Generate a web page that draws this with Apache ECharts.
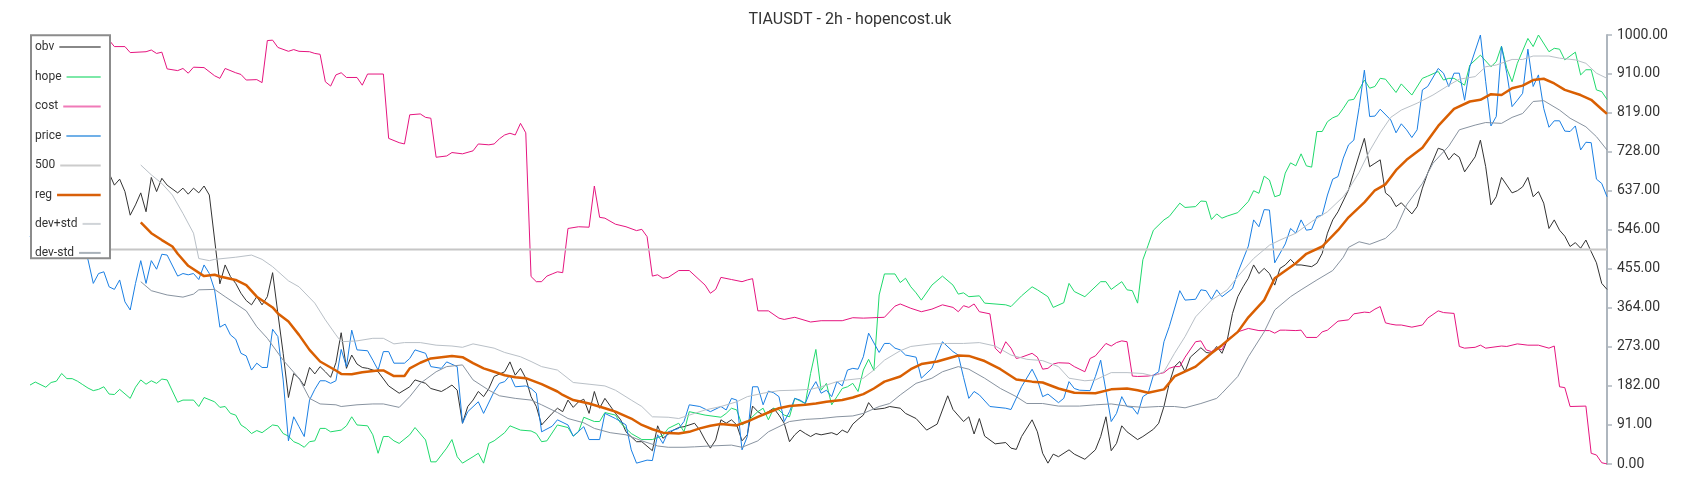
<!DOCTYPE html>
<html><head><meta charset="utf-8">
<script src="https://cdn.jsdelivr.net/npm/echarts@6/dist/echarts.min.js"></script>
<style>html,body{margin:0;padding:0;background:#fff}#c{width:1700px;height:500px}</style>
</head><body><div id="c"></div>
<script>
// ---- data (x = bar index 0..299, y = value) ----
const chartTitle = 'TIAUSDT - 2h - hopencost.uk';
const seriesNames = ['obv', 'hope', 'cost', 'price', '500', 'reg', 'dev+std', 'dev-std'];
const lastBar = 299;
const yMin = 0, yMax = 1000, yStep = 91;

const obv = [[0,700],[2,690],[4,712],[6,695],[8,705],[10,688],[12,702],[14,690],[15,678],[16,650],[17,664],[18,635],[19,580],[20,604],[21,632],[22,588],[23,668],[24,635],[25,666],[26,650],[28,632],[29,643],[30,629],[31,643],[32,632],[33,648],[34,627],[36,420],[37,464],[38,437],[39,421],[40,398],[41,381],[42,371],[43,390],[44,371],[45,390],[46,446],[47,351],[48,258],[49,155],[50,211],[51,200],[52,182],[53,225],[54,210],[55,227],[56,215],[57,202],[58,236],[59,306],[60,223],[61,254],[62,233],[63,225],[64,223],[66,215],[68,182],[70,165],[72,180],[73,196],[75,188],[76,176],[78,169],[79,176],[80,184],[81,172],[82,95],[83,134],[84,149],[85,169],[86,157],[87,176],[88,204],[90,215],[91,238],[92,207],[93,223],[94,200],[95,157],[96,134],[97,91],[99,118],[100,130],[101,122],[102,149],[103,132],[104,145],[105,151],[106,118],[107,169],[108,130],[109,153],[111,118],[112,103],[113,75],[115,52],[116,52],[118,31],[119,89],[120,60],[122,79],[123,85],[124,87],[126,95],[127,79],[128,56],[129,37],[130,56],[131,103],[132,95],[133,103],[134,91],[135,54],[136,68],[137,135],[138,122],[139,114],[141,130],[142,114],[143,95],[144,52],[145,68],[146,79],[147,71],[148,64],[149,71],[150,68],[152,73],[153,68],[154,79],[155,73],[156,93],[157,104],[158,114],[159,143],[160,127],[162,130],[163,134],[165,130],[166,118],[168,106],[170,79],[172,93],[174,159],[175,127],[177,99],[178,110],[179,70],[180,106],[181,65],[183,47],[185,50],[186,37],[187,34],[188,64],[190,103],[191,75],[192,25],[193,2],[194,23],[195,17],[197,33],[198,23],[200,11],[202,33],[203,64],[204,110],[205,31],[206,48],[207,89],[208,75],[210,57],[211,64],[213,81],[214,95],[215,134],[216,188],[217,227],[218,239],[219,215],[220,249],[222,271],[223,260],[224,258],[225,274],[226,258],[227,289],[228,351],[229,390],[230,413],[231,433],[232,464],[233,444],[234,456],[235,444],[236,417],[237,456],[238,464],[239,477],[240,464],[241,464],[243,460],[244,468],[245,491],[246,538],[247,569],[248,588],[250,639],[251,680],[252,720],[253,759],[254,693],[255,701],[256,709],[257,632],[258,622],[259,600],[260,609],[261,596],[262,583],[263,600],[264,643],[265,678],[267,736],[268,732],[269,709],[270,724],[271,715],[272,681],[274,716],[275,755],[276,693],[277,604],[278,623],[279,668],[281,632],[282,637],[283,646],[284,668],[285,623],[286,635],[287,608],[288,549],[289,569],[290,545],[291,531],[292,507],[293,516],[294,503],[295,522],[296,495],[297,469],[298,421],[299,407]];

const hope = [[0,184],[1,191],[3,179],[4,190],[5,193],[6,211],[7,199],[8,199],[9,193],[10,185],[11,177],[12,171],[13,174],[14,180],[15,163],[16,162],[17,174],[19,153],[20,179],[21,196],[22,186],[23,194],[24,188],[25,198],[26,196],[28,144],[29,149],[31,149],[32,134],[33,155],[35,145],[36,132],[37,134],[38,118],[39,114],[40,91],[41,83],[42,71],[43,78],[44,73],[46,91],[47,89],[48,71],[49,65],[50,52],[51,47],[52,39],[53,52],[54,54],[55,83],[56,83],[57,75],[59,79],[60,89],[61,110],[62,91],[64,89],[65,68],[66,25],[67,64],[68,64],[69,54],[70,48],[72,68],[73,85],[75,56],[76,5],[77,5],[79,37],[80,57],[81,17],[82,2],[84,17],[85,25],[86,2],[87,48],[88,54],[90,73],[91,89],[93,79],[95,77],[96,71],[97,52],[98,54],[100,91],[102,85],[103,65],[104,75],[105,109],[107,99],[108,99],[109,120],[111,114],[112,95],[114,71],[116,57],[118,57],[120,66],[121,83],[123,95],[124,75],[125,122],[128,114],[131,109],[132,118],[133,130],[134,126],[135,91],[136,99],[138,122],[139,130],[140,103],[141,130],[142,126],[143,114],[144,110],[145,153],[147,141],[148,211],[149,267],[150,172],[151,188],[152,138],[153,157],[154,176],[155,180],[156,188],[157,169],[158,219],[159,244],[160,218],[161,394],[162,443],[164,443],[165,423],[166,433],[167,413],[168,399],[169,382],[171,417],[173,438],[175,417],[176,396],[177,399],[178,390],[180,392],[181,375],[185,371],[186,367],[188,392],[190,413],[191,406],[193,390],[194,365],[196,376],[197,421],[198,402],[200,390],[203,425],[204,425],[205,407],[207,425],[208,406],[209,404],[210,375],[211,476],[212,510],[213,545],[215,569],[216,577],[218,608],[219,598],[221,600],[222,613],[223,612],[224,570],[225,583],[226,573],[227,578],[229,586],[231,612],[232,637],[233,631],[234,671],[235,662],[236,623],[237,627],[238,678],[239,702],[240,695],[241,723],[242,695],[243,692],[244,775],[245,775],[246,798],[247,807],[248,812],[249,829],[250,848],[251,850],[252,872],[253,895],[254,876],[255,880],[256,899],[257,897],[259,866],[260,886],[262,860],[264,899],[265,904],[267,915],[268,895],[269,899],[270,899],[272,883],[273,930],[275,953],[277,926],[278,938],[279,974],[280,922],[281,891],[282,934],[284,992],[285,973],[286,1000],[288,961],[289,969],[290,967],[291,942],[293,960],[294,907],[295,919],[296,919],[297,872],[298,868],[299,850]];

const cost = [[0,990],[3,986],[6,992],[9,985],[12,990],[15,988],[16,973],[18,973],[19,959],[22,961],[23,965],[24,957],[25,960],[26,921],[28,917],[29,922],[30,911],[31,925],[33,924],[35,905],[36,899],[37,922],[39,912],[40,908],[41,895],[43,896],[44,889],[45,987],[46,988],[47,971],[49,962],[50,966],[51,962],[53,961],[54,957],[55,955],[56,891],[57,881],[58,907],[59,912],[60,901],[62,901],[63,883],[64,909],[67,909],[68,759],[70,749],[71,746],[72,814],[74,816],[75,808],[76,806],[77,715],[79,718],[80,726],[82,723],[84,730],[85,746],[87,744],[88,746],[89,758],[90,767],[91,771],[92,767],[93,794],[94,772],[95,437],[96,425],[97,425],[98,438],[99,443],[100,448],[101,446],[102,549],[104,553],[106,552],[107,648],[108,575],[109,573],[111,559],[113,553],[115,544],[116,547],[117,530],[118,438],[119,441],[120,433],[121,435],[123,451],[125,451],[128,417],[129,398],[130,407],[131,435],[133,430],[135,425],[136,429],[137,432],[138,357],[140,357],[142,340],[143,337],[145,342],[148,331],[150,334],[154,334],[156,341],[158,340],[162,342],[164,368],[165,373],[167,363],[169,355],[171,361],[173,371],[175,365],[176,355],[177,369],[178,365],[179,373],[180,355],[182,350],[183,270],[184,258],[185,285],[186,270],[187,246],[188,249],[190,258],[191,249],[192,221],[193,223],[194,233],[195,236],[197,235],[198,227],[200,215],[201,246],[202,252],[204,281],[205,275],[206,283],[207,287],[208,285],[209,205],[210,204],[212,205],[213,207],[215,213],[216,223],[217,227],[218,227],[219,249],[221,285],[222,287],[223,266],[224,262],[225,270],[226,266],[227,290],[229,308],[231,316],[233,311],[235,311],[236,305],[237,312],[238,312],[240,311],[241,312],[242,295],[244,295],[245,308],[246,312],[248,333],[250,336],[251,350],[253,354],[254,353],[255,361],[256,367],[257,329],[258,326],[259,324],[260,324],[262,319],[264,324],[265,340],[267,357],[268,353],[270,351],[271,274],[272,270],[274,272],[275,277],[276,270],[279,275],[280,274],[282,280],[284,277],[286,277],[288,270],[289,275],[290,180],[291,178],[292,134],[295,135],[296,25],[297,21],[298,3],[299,0]];

const price = [[0,530],[2,505],[4,540],[6,515],[8,545],[10,500],[11,476],[12,421],[13,444],[14,448],[15,413],[16,407],[17,429],[18,378],[19,359],[20,421],[21,474],[22,421],[23,474],[24,454],[25,489],[26,487],[28,438],[29,444],[30,441],[31,444],[32,430],[33,464],[34,444],[35,406],[36,319],[37,326],[38,301],[39,291],[40,258],[41,252],[42,219],[43,235],[44,225],[45,225],[46,314],[47,297],[48,196],[49,54],[50,110],[51,87],[52,64],[53,149],[54,174],[55,194],[56,194],[57,188],[58,194],[59,267],[60,227],[61,312],[62,266],[64,264],[65,242],[66,219],[67,262],[68,262],[69,235],[71,235],[72,246],[73,266],[75,258],[76,227],[78,223],[79,238],[81,227],[82,95],[83,122],[85,145],[86,118],[88,169],[89,188],[90,192],[91,207],[92,180],[94,182],[95,176],[96,165],[97,75],[99,88],[100,103],[102,91],[103,65],[105,87],[106,57],[108,57],[109,118],[111,106],[112,99],[113,91],[114,33],[115,2],[117,9],[118,8],[119,68],[120,48],[121,75],[123,83],[124,99],[125,138],[127,134],[129,122],[131,134],[132,126],[133,153],[134,149],[135,33],[136,64],[137,180],[138,180],[139,138],[140,170],[141,166],[142,157],[143,99],[144,122],[145,153],[146,149],[147,141],[148,172],[149,192],[150,165],[151,172],[152,157],[153,192],[154,182],[155,219],[156,223],[157,221],[158,250],[159,305],[161,260],[162,281],[163,281],[164,270],[165,266],[166,254],[168,249],[169,200],[171,223],[173,285],[175,262],[176,254],[177,202],[178,153],[179,169],[180,161],[182,134],[185,130],[186,127],[188,180],[190,221],[191,196],[192,157],[193,163],[195,143],[196,153],[197,192],[198,176],[199,172],[201,171],[202,204],[203,242],[205,99],[206,118],[207,157],[208,134],[209,132],[210,116],[211,157],[212,165],[213,207],[214,215],[215,285],[216,320],[218,404],[219,382],[221,384],[222,406],[223,404],[224,384],[225,406],[226,390],[228,409],[229,446],[231,508],[232,569],[233,553],[234,593],[235,592],[236,469],[238,513],[239,549],[240,538],[241,569],[242,545],[243,547],[244,577],[245,580],[246,627],[247,664],[248,670],[249,713],[250,744],[251,755],[252,831],[253,918],[254,810],[255,811],[256,827],[258,802],[259,772],[260,793],[261,779],[262,761],[263,779],[264,872],[265,880],[267,922],[268,911],[269,880],[270,911],[271,911],[272,848],[273,926],[275,1000],[276,891],[277,788],[278,810],[279,973],[280,911],[281,833],[282,848],[283,864],[284,967],[285,880],[286,907],[287,829],[288,785],[289,800],[290,800],[291,776],[292,775],[293,788],[294,732],[295,750],[296,749],[297,664],[298,654],[299,623]];

const level500 = [[0,500],[299,500]];

const reg = [[21,563],[23,538],[25,522],[27,507],[28,490],[30,462],[33,438],[35,441],[36,437],[39,429],[41,417],[43,390],[46,365],[47,351],[49,332],[51,301],[53,266],[55,239],[58,218],[59,210],[61,209],[63,214],[66,218],[67,218],[69,205],[71,205],[72,223],[74,236],[76,246],[78,249],[80,252],[82,249],[84,235],[86,223],[88,215],[90,207],[92,202],[94,200],[97,186],[100,169],[101,161],[103,149],[106,141],[109,130],[111,122],[114,106],[116,91],[118,81],[120,73],[123,71],[125,75],[127,83],[129,89],[131,93],[134,90],[136,99],[138,110],[140,120],[142,130],[144,135],[147,138],[149,141],[151,145],[154,149],[156,155],[158,163],[160,176],[162,192],[165,204],[167,221],[169,233],[172,239],[174,246],[176,253],[178,252],[181,240],[184,221],[187,197],[190,192],[192,190],[195,176],[198,166],[202,165],[205,174],[208,176],[210,172],[212,166],[215,174],[217,204],[221,227],[224,258],[226,277],[229,308],[231,342],[234,382],[236,433],[240,468],[242,490],[245,507],[248,545],[250,575],[253,610],[255,638],[257,652],[259,685],[261,709],[264,737],[267,788],[270,828],[273,845],[275,849],[277,862],[279,860],[281,876],[283,882],[285,895],[287,898],[289,887],[291,872],[294,860],[296,849],[298,827],[299,816]];

const devPlus = [[21,697],[23,674],[25,654],[27,627],[29,584],[31,538],[32,479],[34,474],[35,477],[39,482],[42,487],[44,477],[46,460],[49,427],[51,413],[54,375],[56,336],[58,301],[59,285],[62,287],[65,293],[67,293],[69,280],[71,283],[74,283],[77,277],[80,275],[82,272],[84,280],[88,270],[90,260],[93,250],[95,239],[97,227],[100,219],[103,190],[106,186],[109,182],[111,172],[114,149],[116,134],[118,110],[121,109],[123,106],[126,118],[128,126],[131,134],[134,145],[136,157],[139,165],[142,171],[145,172],[148,174],[150,180],[153,192],[155,196],[158,200],[160,219],[162,242],[165,264],[167,274],[171,280],[174,281],[177,281],[180,283],[183,275],[186,254],[189,244],[192,241],[195,227],[197,200],[200,194],[202,196],[205,213],[208,213],[211,211],[213,205],[215,215],[217,258],[219,297],[221,343],[224,382],[227,406],[229,437],[232,479],[235,510],[237,522],[240,538],[243,565],[246,588],[249,623],[250,640],[252,680],[254,730],[256,772],[258,808],[260,825],[263,841],[266,860],[269,883],[271,897],[274,903],[276,926],[278,930],[281,943],[283,943],[285,951],[288,951],[290,946],[293,942],[295,934],[297,911],[299,899]];

const devMinus = [[21,425],[23,404],[26,394],[29,389],[31,396],[32,406],[35,407],[37,390],[41,357],[43,320],[45,293],[48,242],[51,200],[53,153],[55,140],[58,138],[59,134],[62,138],[65,140],[67,140],[70,132],[72,157],[74,188],[77,215],[79,227],[82,231],[84,196],[87,172],[89,159],[92,153],[95,149],[97,138],[100,120],[102,106],[105,96],[107,83],[110,73],[113,68],[116,54],[119,42],[121,39],[124,39],[126,40],[129,42],[133,44],[135,39],[138,54],[140,75],[144,99],[147,104],[150,106],[153,110],[156,112],[158,118],[161,134],[163,141],[165,161],[168,188],[171,200],[173,215],[176,227],[178,221],[181,200],[184,176],[187,157],[189,141],[192,141],[195,135],[199,135],[202,138],[205,140],[208,135],[211,132],[214,134],[217,134],[219,131],[222,141],[225,153],[226,165],[229,204],[231,250],[234,308],[236,359],[239,390],[241,406],[244,429],[247,451],[249,482],[250,505],[252,518],[254,512],[257,526],[259,549],[261,604],[264,654],[266,701],[269,741],[271,779],[274,790],[276,796],[279,794],[281,808],[283,817],[285,845],[287,847],[290,825],[292,806],[295,786],[297,763],[299,732]];

// ---- styles ----
const seriesData = [obv, hope, cost, price, level500, reg, devPlus, devMinus];
const lineColors = ['#333333', '#1fd96c', '#e5157f', '#1a7fe3', '#c6c6c6', '#d95f02', '#b9c0c7', '#8893a0'];
const lineWidths = [1, 1, 1, 1, 2, 2.5, 1, 1];
const iconColors = ['#888888', '#7de8a8', '#f07ab8', '#70b0e8', '#cccccc', '#d9600a', '#d0d4d8', '#a9b1b9'];
const legendCenters = [48.5, 78.5, 108, 137.5, 167, 196.5, 225.5, 254.5];
const FONT = 'Roboto';

const measure = (() => {
  const ctx = document.createElement('canvas').getContext('2d');
  ctx.font = '12px ' + FONT;
  return t => ctx.measureText(t).width;
})();

const legends = seriesNames.map((name, i) => ({
  data: [name],
  orient: 'vertical',
  left: 35,
  top: legendCenters[i] - 8,
  padding: 0,
  itemGap: 0,
  itemHeight: 16,
  itemWidth: Math.max(10, 60.7 - measure(name)),
  align: 'right',
  selectedMode: false,
  z: 100,
  textStyle: { color: '#333', fontSize: 12, fontFamily: FONT },
  lineStyle: { color: iconColors[i], width: i === 5 ? 2.5 : 2, opacity: 1 },
  itemStyle: { color: iconColors[i], opacity: 0 }
}));

const chart = echarts.init(document.getElementById('c'), null, { renderer: 'canvas' });
chart.setOption({
  animation: false,
  backgroundColor: '#fff',
  textStyle: { fontFamily: FONT },
  title: {
    text: chartTitle, left: 'center', top: 12, padding: 0,
    textStyle: { fontSize: 16, fontWeight: 'normal', color: '#333', fontFamily: FONT }
  },
  grid: { left: 30, right: 93, top: 35, bottom: 36, containLabel: false, outerBoundsMode: 'none' },
  xAxis: { type: 'value', min: 0, max: lastBar, show: false },
  yAxis: {
    type: 'value', position: 'right', min: yMin, max: yMax, interval: yStep,
    axisLine: { show: true, onZero: false, lineStyle: { color: '#aeb6be', width: 2 } },
    axisTick: { show: true, length: 5, lineStyle: { color: '#aeb6be', width: 1.5 } },
    axisLabel: { color: '#333', fontSize: 14, margin: 10, fontFamily: FONT, formatter: v => v.toFixed(2) },
    splitLine: { show: false }
  },
  legend: legends,
  graphic: { elements: [{
    type: 'rect', z: 50, silent: true,
    shape: { x: 31, y: 35.3, width: 79, height: 223 },
    style: { fill: '#ffffff', stroke: '#8c8c8c', lineWidth: 2 }
  }] },
  series: seriesNames.map((name, i) => ({
    name, type: 'line', data: seriesData[i], symbol: 'none', showSymbol: false,
    color: lineColors[i], silent: true, z: 2 + i * 0.01,
    lineStyle: { color: lineColors[i], width: lineWidths[i] }
  }))
});
</script></body></html>
